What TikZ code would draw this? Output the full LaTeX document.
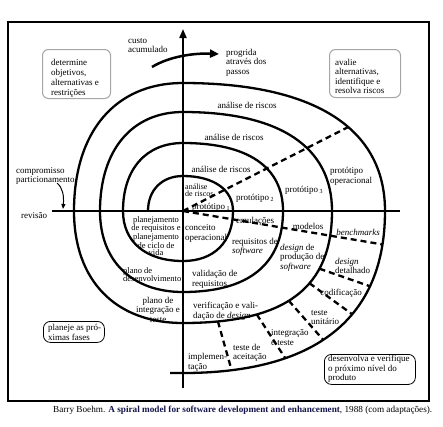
\documentclass[tikz,border=0pt]{standalone}
\usepackage{fontspec}
\setmainfont{Liberation Serif}
\usetikzlibrary{arrows.meta}
\begin{document}
\begin{tikzpicture}[x=1pt,y=-1pt,
  lbl/.style={font=\fontsize{9}{9.5}\selectfont, inner sep=0pt, align=left},
  clbl/.style={font=\fontsize{9}{9.5}\selectfont, inner sep=0pt, align=center},
  tinyl/.style={font=\fontsize{8}{7}\selectfont, inner sep=0pt, align=left},
  tinyc/.style={font=\fontsize{8.5}{7.2}\selectfont, inner sep=0pt, align=center},
  spiral/.style={line width=2.3pt},
  axisline/.style={line width=2pt},
  dsh/.style={line width=2.3pt, dash pattern=on 6pt off 4pt},
  graybox/.style={draw=black!35, line width=1pt, rounded corners=6pt, inner sep=0pt},
  blackbox/.style={draw=black, line width=0.8pt, rounded corners=7pt, inner sep=0pt},
]
\useasboundingbox (0,0) rectangle (443,426);
\fill[white] (0,0) rectangle (443,426);
\draw[line width=1.1pt] (8,22) rectangle (429,401);

% axes
\coordinate (C) at (183,211);
\coordinate (vtop) at (183,29);
\coordinate (vbot) at (183,388);
\coordinate (hl) at (52,211);
\coordinate (hr) at (400,211);
\draw[axisline,-{Triangle[width=7pt,length=9pt]}] (vbot) -- (vtop);
\draw[axisline] (hl) -- (hr);

% spiral
\draw[spiral] (148,211) .. controls (148,190) and (162,176) .. (183,176)
  .. controls (214,176) and (233,190) .. (233,211)
  .. controls (233,242) and (214,261) .. (183,261)
  .. controls (146,261) and (123,242) .. (123,211)
  .. controls (123,169) and (146,143) .. (183,143)
  .. controls (248,143) and (283,167) .. (283,211)
  .. controls (283,264) and (249,292) .. (183,292)
  .. controls (132,292) and (100,261) .. (100,211)
  .. controls (100,150) and (132,112) .. (183,112)
  .. controls (280,112) and (332,147) .. (332,211)
  .. controls (332,287) and (287,323) .. (183,323)
     coordinate[pos=0.3] (m3) coordinate[pos=0.4] (m4) coordinate[pos=0.55] (m5)
     coordinate[pos=0.72] (m6) coordinate[pos=0.88] (m7)
  .. controls (115,323) and (74,280) .. (74,211)
  .. controls (74,132) and (115,83) .. (183,83)
  .. controls (314,83) and (385,128) .. (385,211)
     coordinate[pos=0.58] (o1)
  .. controls (385,318) and (316,373) .. (183,373)
     coordinate[pos=0.11] (o2) coordinate[pos=0.27] (o3) coordinate[pos=0.4] (o4)
     coordinate[pos=0.55] (o5) coordinate[pos=0.7] (o6) coordinate[pos=0.87] (o7)
  -- (170,373);

% dashed lines
\draw[dsh] (C) -- (o1);
\draw[dsh] (C) -- (o2);
\draw[dsh] (m3) -- (o3);
\draw[dsh] (m4) -- (o4);
\draw[dsh] (m5) -- (o5);
\draw[dsh] (m6) -- (o6);
\draw[dsh] (m7) -- (o7);

% cost arrow
\coordinate (ca1) at (152,67);
\coordinate (ca2) at (219,54);
\draw[line width=2.5pt,-{Triangle[width=8pt,length=9pt]}] (ca1) .. controls (170,56) and (195,53) .. (ca2);
\node[lbl, anchor=west] (custo) at (128,45.5) {custo\\acumulado};
\node[lbl, anchor=west] (progr) at (226,62.5) {progrida\\através dos\\passos};

% boxes
\node[graybox, minimum width=68pt, minimum height=49pt, anchor=north west] (boxA) at (42,49) {};
\node[lbl, anchor=west, font=\fontsize{9}{10}\selectfont] (tA) at (51,78) {determine\\objetivos,\\alternativas e\\restrições};
\node[graybox, minimum width=71pt, minimum height=48pt, anchor=north west] (boxB) at (329,49) {};
\node[lbl, anchor=west] (tB) at (335,76.5) {avalie\\alternativas,\\identifique e\\resolva riscos};
\node[blackbox, minimum width=61pt, minimum height=21pt, anchor=north west] (boxC) at (43,321) {};
\node[lbl, anchor=west, font=\fontsize{9}{10}\selectfont] (tC) at (48,332) {planeje as pró-\\ximas fases};
\node[blackbox, minimum width=91pt, minimum height=30pt, anchor=north west] (boxD) at (324,354) {};
\node[lbl, anchor=west] (tD) at (328,369) {desenvolva e verifique\\o próximo nível do\\produto};

% compromisso
\node[lbl, anchor=west, font=\fontsize{9}{8.5}\selectfont] (comp) at (16,176) {compromisso\\particionamento};
\coordinate (cp1) at (57,183);
\coordinate (cp2) at (63,209);
\draw[line width=1pt,-{Triangle[width=4pt,length=5pt]}] (cp1) .. controls (63,188) and (64,196) .. (cp2);
\node[lbl, anchor=west] (rev) at (21,216) {revisão};

% top right labels
\node[clbl] (ar1) at (247,105) {análise de riscos};
\node[clbl] (ar2) at (234,137) {análise de riscos};
\node[clbl] (ar3) at (221,169) {análise de riscos};
\node[tinyl, anchor=west] (ar4) at (185,190.5) {análise\\de riscos};
\node[clbl] (p1) at (211,207) {protótipo\,\textsubscript{1}};
\node[clbl] (p2) at (255,198) {protótipo\,\textsubscript{2}};
\node[clbl] (p3) at (304,190) {protótipo\,\textsubscript{3}};
\node[lbl, anchor=west] (pop) at (330,176.5) {protótipo\\operacional};

% bottom right labels
\node[clbl] (emu) at (255,221) {emulações};
\node[clbl] (mod) at (308,226) {modelos};
\node[clbl] (bench) at (358,232) {\itshape benchmarks};
\node[lbl, anchor=west] (conc) at (185,233.5) {conceito\\operacional};
\node[lbl, anchor=west] (reqs) at (232,247) {requisitos de\\\itshape software};
\node[lbl, anchor=west] (dps) at (280,257.5) {\textit{design} de\\produção de\\\itshape software};
\node[lbl, anchor=west] (dd) at (335,266) {\textit{design}\\detalhado};
\node[clbl] (cod) at (341,293) {codificação};
\node[lbl, anchor=west] (tu) at (311,317.5) {teste\\unitário};
\node[lbl, anchor=west] (it) at (271,337.5) {integração\\e teste};
\node[lbl, anchor=west] (ta) at (233,353) {teste de\\aceitação};
\node[lbl, anchor=west] (imp) at (188,362.5) {implemen-\\tação};
\node[lbl, anchor=west] (vvd) at (193,311.5) {verificação e vali-\\dação de \textit{design}};
\node[lbl, anchor=west] (vr) at (192,279.5) {validação de\\requisitos};

% bottom left labels
\node[tinyc] (plr) at (156,236) {planejamento\\de requisitos e\\planejamento\\de ciclo de\\vida};
\node[lbl, anchor=west, font=\fontsize{8.5}{7.5}\selectfont] (pd) at (123,274.5) {plano de\\desenvolvimento};
\node[clbl] (pit) at (158,309.5) {plano de\\integração e\\teste};

% caption
\node[lbl, anchor=west, font=\fontsize{9.2}{10}\selectfont] (cap) at (53,410) {Barry Boehm. {\bfseries\color[rgb]{0.08,0.08,0.3}A spiral model for software development and enhancement}, 1988 (com adaptações).};
\end{tikzpicture}
\end{document}
